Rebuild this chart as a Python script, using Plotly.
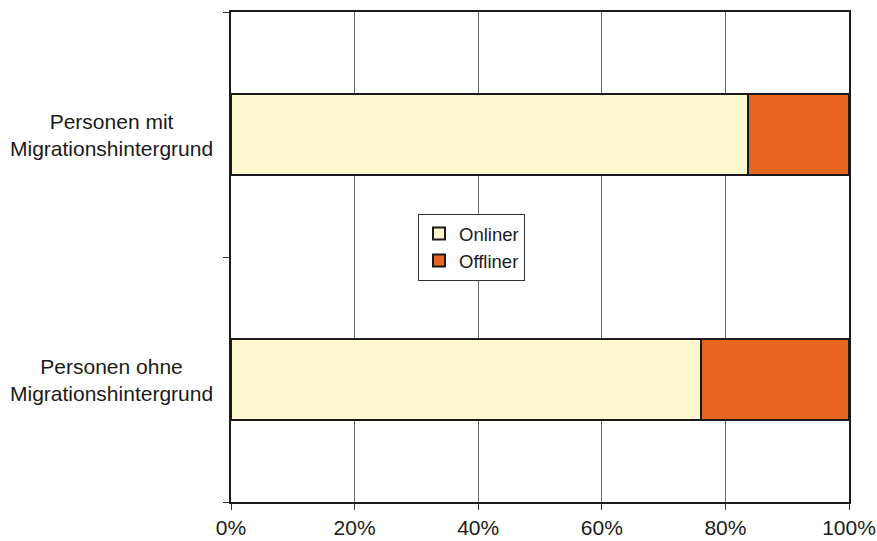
import plotly.graph_objects as go

categories = ["Personen ohne Migrationshintergrund", "Personen mit Migrationshintergrund"]
cat_labels = ["Personen ohne<br>Migrationshintergrund", "Personen mit<br>Migrationshintergrund"]
onliner = [76.0, 83.7]
offliner = [24.0, 16.3]
tick_vals = [0, 20, 40, 60, 80, 100]
tick_text = ["0%", "20%", "40%", "60%", "80%", "100%"]

fig = go.Figure()
fig.add_trace(go.Bar(y=categories, x=onliner, name="Onliner", orientation="h",
                     marker=dict(color="#FDF7CF", line=dict(color="#1a1a1a", width=2))))
fig.add_trace(go.Bar(y=categories, x=offliner, name="Offliner", orientation="h",
                     marker=dict(color="#E8651F", line=dict(color="#1a1a1a", width=2))))

for cat, lab in zip(categories, cat_labels):
    fig.add_annotation(x=-0.194, xref="paper", y=cat, yref="y", text=lab,
                       showarrow=False, xanchor="center", align="center",
                       font=dict(size=21, color="#1a1a1a"))

fig.update_layout(
    width=877, height=541,
    margin=dict(l=231, r=28, t=12, b=39),
    barmode="stack", bargap=0.67,
    plot_bgcolor="white", paper_bgcolor="white",
    font=dict(family="Liberation Sans, Arial", size=21, color="#1a1a1a"),
    showlegend=True,
    legend=dict(x=0.3026, y=0.588, xanchor="left", yanchor="top",
                bgcolor="white", bordercolor="#333", borderwidth=1,
                font=dict(size=18.5), traceorder="normal",
                tracegroupgap=0, itemwidth=30),
    xaxis=dict(range=[0, 100], tickvals=tick_vals, ticktext=tick_text,
               showgrid=True, gridcolor="#666", gridwidth=1,
               showline=True, linecolor="#1a1a1a", linewidth=2, mirror=True,
               ticks="outside", ticklen=6, tickcolor="#333", zeroline=False,
               automargin=False, ticklabelstandoff=0),
    yaxis=dict(range=[-0.5, 1.5], tickson="boundaries", ticks="outside", ticklen=6,
               tickcolor="#333", showline=True, linecolor="#1a1a1a", linewidth=2,
               mirror=True, showgrid=False, showticklabels=False, automargin=False),
)

fig.write_html("out.html")
